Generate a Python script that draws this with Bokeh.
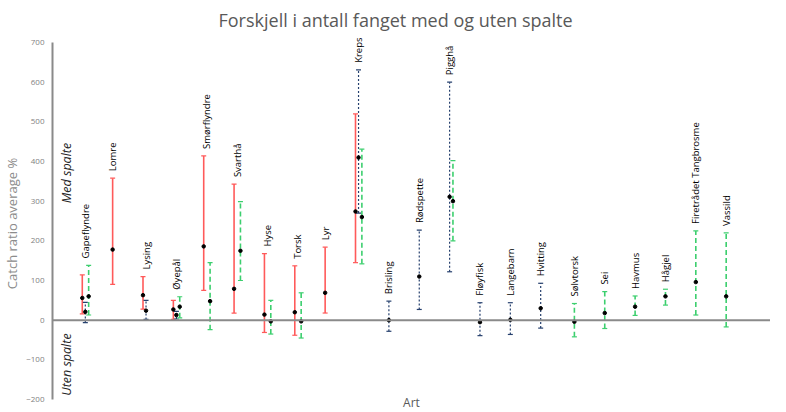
import math
from bokeh.plotting import figure
from bokeh.models import (ColumnDataSource, Whisker, TeeHead, Span, Label,
                          FixedTicker, Range1d, LinearAxis)
from bokeh.core.properties import value
from bokeh.embed import file_html
from bokeh.resources import INLINE

# ---------------- data ----------------
categories = ["Gapeflyndre", "Lomre", "Lysing", "Øyepål", "Smørflyndre", "Svarthå",
              "Hyse", "Torsk", "Lyr", "Kreps", "Brisling", "Rødspette", "Pigghå",
              "Fløyfisk", "Langebarn", "Hvitting", "Sølvtorsk", "Sei", "Havmus",
              "Hågjel", "Firetrådet Tangbrosme", "Vassild"]

N = None
red_mean = [56, 178, 63, 27, 186, 79, 14, 20, 69, 274, N, N, N, N, N, N, N, N, N, N, N, N]
red_low  = [16, 90, 28, 2, 75, 18, -31, -38, 18, 145, N, N, N, N, N, N, N, N, N, N, N, N]
red_high = [114, 358, 110, 50, 414, 343, 168, 137, 184, 520, N, N, N, N, N, N, N, N, N, N, N, N]

blue_mean = [21, N, 24, 13, N, N, N, N, N, 410, 0, 110, 311, -5, 1, 30, N, N, N, N, N, N]
blue_low  = [-6, N, 2, 3, N, N, N, N, N, 270, -28, 27, 122, -39, -36, -20, N, N, N, N, N, N]
blue_high = [45, N, 50, 22, N, N, N, N, N, 631, 48, 227, 600, 44, 44, 93, N, N, N, N, N, N]

green_mean = [60, N, N, 34, 48, 175, -3, -3, N, 260, N, N, 300, N, N, N, -4, 18, 34, 60, 96, 60]
green_low  = [13, N, N, 6, -24, 100, -35, -45, N, 142, N, N, 200, N, N, N, -42, -21, 12, 38, 13, -17]
green_high = [138, N, N, 59, 145, 299, 50, 69, N, 431, N, N, 402, N, N, N, 42, 72, 61, 78, 225, 220]

y_ticks = [-200, -100, 0, 100, 200, 300, 400, 500, 600, 700]

title_text = "Forskjell i antall fanget med og uten spalte"
y_title = "Catch ratio average %"
x_title = "Art"
upper_note = "Med spalte"
lower_note = "Uten spalte"

# ---------------- styling ----------------
FONT = "Open Sans"
RED = "#ff5a5a"
BLUE = "#26406e"
GREEN = "#3ccf6e"
AXIS_GRAY = "#8a8a8a"
DODGE = {"red": -0.10, "blue": 0.0, "green": 0.11}

x0, x1 = -0.081, 23.57
y0, y1 = -227.7, 715.1

p = figure(width=770, height=410, output_backend="svg", toolbar_location=None,
           x_range=Range1d(x0, x1), y_range=Range1d(y0, y1),
           x_axis_location=None, y_axis_location=None,
           min_border_left=48, min_border_right=0, min_border_top=36,
           min_border_bottom=0, background_fill_color="white",
           border_fill_color="white", outline_line_color=None)
p.grid.visible = False

p.title.text = title_text
p.title.text_font = FONT
p.title.text_font_size = "18px"
p.title.text_font_style = "normal"
p.title.text_color = "#595959"
p.title.align = "left"
p.title.offset = 166

yax = LinearAxis(bounds=(-200, 700), ticker=FixedTicker(ticks=y_ticks))
yax.axis_line_color = AXIS_GRAY
yax.axis_line_width = 2
yax.major_tick_line_color = None
yax.minor_tick_line_color = None
yax.major_tick_out = 0
yax.major_tick_in = 0
yax.major_label_standoff = 8
yax.major_label_text_font = FONT
yax.major_label_text_font_size = "8px"
yax.major_label_text_color = "#7f7f7f"
yax.axis_label = y_title
yax.axis_label_text_font = FONT
yax.axis_label_text_font_size = "13px"
yax.axis_label_text_font_style = "normal"
yax.axis_label_text_color = "#8c8c8c"
yax.axis_label_standoff = 2
p.add_layout(yax, "left")

# horizontal category axis crossing at 0
p.add_layout(Span(location=0, dimension="width", line_color=AXIS_GRAY, line_width=2))


def series(mean, low, high, key, color, dash, width):
    xs, ms, ls, hs = [], [], [], []
    for i, m in enumerate(mean):
        if m is None:
            continue
        xs.append(i + 1 + DODGE[key])
        ms.append(m)
        ls.append(low[i])
        hs.append(high[i])
    src = ColumnDataSource(dict(x=xs, mean=ms, low=ls, high=hs))
    w = Whisker(base="x", lower="low", upper="high", source=src, dimension="height",
                line_color=color, line_width=width, line_dash=dash,
                upper_head=TeeHead(size=5, line_color=color, line_width=1.2),
                lower_head=TeeHead(size=5, line_color=color, line_width=1.2))
    p.add_layout(w)
    return src


sources = [
    series(red_mean, red_low, red_high, "red", RED, "solid", 1.6),
    series(blue_mean, blue_low, blue_high, "blue", BLUE, "2 2", 1.2),
    series(green_mean, green_low, green_high, "green", GREEN, "5 3", 1.6),
]
for src in sources:
    p.scatter("x", "mean", source=src, size=3.5, color="black")

# category labels, above the highest whisker of each category
lab_x, lab_y = [], []
for i, name in enumerate(categories):
    present = []
    tops = []
    for key, mean, high in (("red", red_mean, red_high), ("blue", blue_mean, blue_high),
                            ("green", green_mean, green_high)):
        if mean[i] is not None:
            present.append(key)
            tops.append(high[i])
    off = DODGE[present[0]] if len(present) == 1 else 0.0
    lab_x.append(i + 1 + off)
    lab_y.append(max(tops))
lab_src = ColumnDataSource(dict(x=lab_x, y=lab_y, text=categories))
p.text("x", "y", text="text", source=lab_src, angle=math.pi / 2,
       text_align="left", text_baseline="middle", y_offset=-7,
       text_font=value(FONT), text_font_size="9.5px", text_color="black")

for txt, yy in ((upper_note, 371), (lower_note, -112)):
    p.add_layout(Label(x=0.38, y=yy, text=txt, angle=math.pi / 2,
                       text_align="center", text_baseline="middle",
                       text_font=FONT, text_font_size="12.5px",
                       text_font_style="italic", text_color="#262626"))

p.add_layout(Label(x=(x0 + x1) / 2, y=y0, text=x_title, text_align="center",
                   text_baseline="bottom", text_font=FONT, text_font_size="12px",
                   text_color="#595959"))

open("out.html", "w").write(file_html(p, INLINE))
